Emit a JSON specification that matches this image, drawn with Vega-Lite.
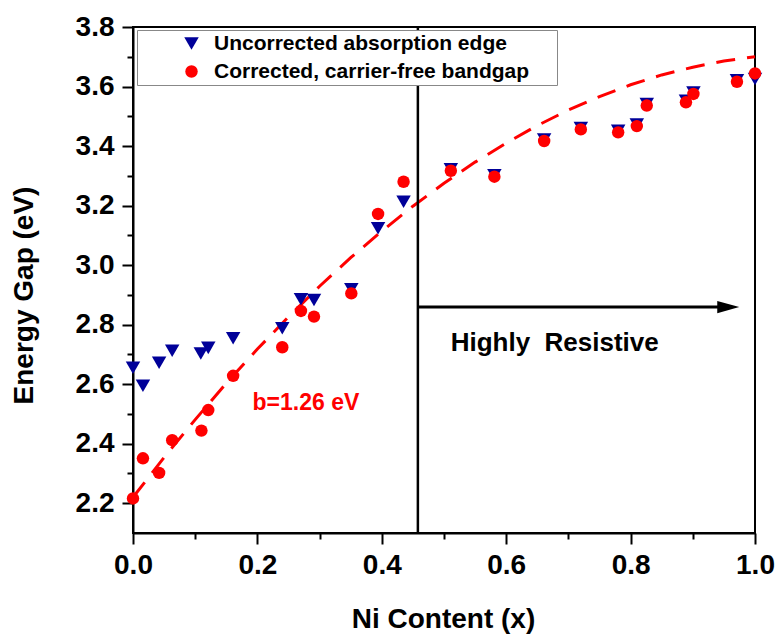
{
  "$schema": "https://vega.github.io/schema/vega-lite/v6.json",
  "width": 622,
  "height": 506,
  "autosize": {"type": "none"},
  "padding": {"left": 133, "top": 27, "right": 23, "bottom": 106},
  "background": "white",
  "config": {
    "font": "Liberation Sans",
    "view": {"stroke": "black", "strokeWidth": 2},
    "axis": {"grid": false, "domainColor": "black", "domainWidth": 2, "tickColor": "black", "tickWidth": 2, "labelColor": "black", "titleColor": "black", "labelFlush": false},
    "legend": {"orient": "none", "legendX": 4, "legendY": 3, "direction": "vertical",
               "fillColor": "white", "strokeColor": "#888888", "padding": 3,
               "symbolSize": 200, "symbolOffset": 41, "labelOffset": 12, "rowPadding": 6,
               "labelFontSize": 21, "labelFontWeight": "bold", "labelColor": "black", "labelLimit": 500,
               "titleOrient": "right", "titlePadding": 25, "titleFontSize": 10}
  },
  "datasets": {
    "points": [
      {"series": "Uncorrected absorption edge", "x": 0.0, "y": 2.655},
      {"series": "Uncorrected absorption edge", "x": 0.016, "y": 2.595},
      {"series": "Uncorrected absorption edge", "x": 0.042, "y": 2.672},
      {"series": "Uncorrected absorption edge", "x": 0.063, "y": 2.712},
      {"series": "Uncorrected absorption edge", "x": 0.109, "y": 2.703},
      {"series": "Uncorrected absorption edge", "x": 0.121, "y": 2.722},
      {"series": "Uncorrected absorption edge", "x": 0.161, "y": 2.754},
      {"series": "Uncorrected absorption edge", "x": 0.240, "y": 2.788},
      {"series": "Uncorrected absorption edge", "x": 0.270, "y": 2.885},
      {"series": "Uncorrected absorption edge", "x": 0.291, "y": 2.883},
      {"series": "Uncorrected absorption edge", "x": 0.351, "y": 2.919},
      {"series": "Uncorrected absorption edge", "x": 0.394, "y": 3.124},
      {"series": "Uncorrected absorption edge", "x": 0.435, "y": 3.213},
      {"series": "Uncorrected absorption edge", "x": 0.511, "y": 3.322},
      {"series": "Uncorrected absorption edge", "x": 0.581, "y": 3.302},
      {"series": "Uncorrected absorption edge", "x": 0.661, "y": 3.422},
      {"series": "Uncorrected absorption edge", "x": 0.720, "y": 3.461},
      {"series": "Uncorrected absorption edge", "x": 0.780, "y": 3.451},
      {"series": "Uncorrected absorption edge", "x": 0.810, "y": 3.472},
      {"series": "Uncorrected absorption edge", "x": 0.826, "y": 3.541},
      {"series": "Uncorrected absorption edge", "x": 0.889, "y": 3.552},
      {"series": "Uncorrected absorption edge", "x": 0.901, "y": 3.580},
      {"series": "Uncorrected absorption edge", "x": 0.971, "y": 3.621},
      {"series": "Uncorrected absorption edge", "x": 1.0, "y": 3.625},
      {"series": "Corrected, carrier-free bandgap", "x": 0.0, "y": 2.216},
      {"series": "Corrected, carrier-free bandgap", "x": 0.016, "y": 2.351},
      {"series": "Corrected, carrier-free bandgap", "x": 0.042, "y": 2.302},
      {"series": "Corrected, carrier-free bandgap", "x": 0.063, "y": 2.412},
      {"series": "Corrected, carrier-free bandgap", "x": 0.110, "y": 2.444},
      {"series": "Corrected, carrier-free bandgap", "x": 0.121, "y": 2.513},
      {"series": "Corrected, carrier-free bandgap", "x": 0.161, "y": 2.628},
      {"series": "Corrected, carrier-free bandgap", "x": 0.240, "y": 2.724},
      {"series": "Corrected, carrier-free bandgap", "x": 0.270, "y": 2.846},
      {"series": "Corrected, carrier-free bandgap", "x": 0.291, "y": 2.827},
      {"series": "Corrected, carrier-free bandgap", "x": 0.351, "y": 2.905},
      {"series": "Corrected, carrier-free bandgap", "x": 0.394, "y": 3.172},
      {"series": "Corrected, carrier-free bandgap", "x": 0.435, "y": 3.280},
      {"series": "Corrected, carrier-free bandgap", "x": 0.511, "y": 3.317},
      {"series": "Corrected, carrier-free bandgap", "x": 0.581, "y": 3.297},
      {"series": "Corrected, carrier-free bandgap", "x": 0.661, "y": 3.417},
      {"series": "Corrected, carrier-free bandgap", "x": 0.720, "y": 3.456},
      {"series": "Corrected, carrier-free bandgap", "x": 0.780, "y": 3.446},
      {"series": "Corrected, carrier-free bandgap", "x": 0.810, "y": 3.467},
      {"series": "Corrected, carrier-free bandgap", "x": 0.826, "y": 3.536},
      {"series": "Corrected, carrier-free bandgap", "x": 0.889, "y": 3.547},
      {"series": "Corrected, carrier-free bandgap", "x": 0.901, "y": 3.575},
      {"series": "Corrected, carrier-free bandgap", "x": 0.971, "y": 3.616},
      {"series": "Corrected, carrier-free bandgap", "x": 1.0, "y": 3.644}
    ],
    "fit": [
      {"x": 0.0, "y": 2.22}, {"x": 0.05, "y": 2.354}, {"x": 0.1, "y": 2.481}, {"x": 0.15, "y": 2.603},
      {"x": 0.2, "y": 2.718}, {"x": 0.25, "y": 2.826}, {"x": 0.3, "y": 2.929}, {"x": 0.35, "y": 3.025},
      {"x": 0.4, "y": 3.114}, {"x": 0.45, "y": 3.198}, {"x": 0.5, "y": 3.275}, {"x": 0.55, "y": 3.346},
      {"x": 0.6, "y": 3.41}, {"x": 0.65, "y": 3.469}, {"x": 0.7, "y": 3.521}, {"x": 0.75, "y": 3.566},
      {"x": 0.8, "y": 3.606}, {"x": 0.85, "y": 3.639}, {"x": 0.9, "y": 3.665}, {"x": 0.95, "y": 3.686},
      {"x": 1.0, "y": 3.70}
    ],
    "boundary": [{"x": 0.458}],
    "arrow": [{"x": 0.458, "x2": 0.945, "y": 2.859, "head": 0.957}],
    "region": [{"x": 0.678, "y": 2.712, "text": "Highly\u00a0 Resistive"}],
    "bowing": [{"x": 0.278, "y": 2.513, "text": "b=1.26 eV"}]
  },
  "resolve": {"axis": {"x": "independent", "y": "independent"}},
  "layer": [
    {
      "data": {"name": "fit"},
      "mark": {"type": "line", "color": "#ff0000", "strokeWidth": 3, "strokeDash": [19, 12]},
      "encoding": {
        "x": {"field": "x", "type": "quantitative", "scale": {"domain": [0, 1], "nice": false, "zero": false},
              "axis": {"orient": "bottom", "values": [0.1, 0.3, 0.5, 0.7, 0.9], "labels": false, "domain": false, "tickSize": 6, "title": null}},
        "y": {"field": "y", "type": "quantitative", "scale": {"domain": [2.1, 3.8], "nice": false, "zero": false},
              "axis": {"orient": "left", "values": [2.3, 2.5, 2.7, 2.9, 3.1, 3.3, 3.5, 3.7], "labels": false, "domain": false, "tickSize": 6, "title": null}}
      }
    },
    {
      "data": {"name": "boundary"},
      "mark": {"type": "rule", "color": "black", "strokeWidth": 2.5},
      "encoding": {
        "x": {"field": "x", "type": "quantitative", "axis": null}
      }
    },
    {
      "data": {"name": "arrow"},
      "mark": {"type": "rule", "color": "black", "strokeWidth": 3},
      "encoding": {
        "x": {"field": "x", "type": "quantitative", "axis": null},
        "x2": {"field": "x2"},
        "y": {"field": "y", "type": "quantitative", "axis": null}
      }
    },
    {
      "data": {"name": "arrow"},
      "mark": {"type": "point", "filled": true, "color": "black", "opacity": 1, "shape": "M-1,-0.55L1,0L-1,0.55Z", "size": 484},
      "encoding": {
        "x": {"field": "head", "type": "quantitative", "axis": null},
        "y": {"field": "y", "type": "quantitative", "axis": null}
      }
    },
    {
      "data": {"name": "region"},
      "mark": {"type": "text", "fontWeight": "bold", "align": "center", "baseline": "alphabetic", "fontSize": 26, "color": "black"},
      "encoding": {
        "x": {"field": "x", "type": "quantitative", "axis": null},
        "y": {"field": "y", "type": "quantitative", "axis": null},
        "text": {"field": "text"}
      }
    },
    {
      "data": {"name": "bowing"},
      "mark": {"type": "text", "fontWeight": "bold", "align": "center", "baseline": "alphabetic", "fontSize": 23, "color": "#ff0000"},
      "encoding": {
        "x": {"field": "x", "type": "quantitative", "axis": null},
        "y": {"field": "y", "type": "quantitative", "axis": null},
        "text": {"field": "text"}
      }
    },
    {
      "data": {"name": "points"},
      "mark": {"type": "point", "filled": true, "opacity": 1},
      "encoding": {
        "x": {"field": "x", "type": "quantitative",
              "axis": {"orient": "bottom", "values": [0, 0.2, 0.4, 0.6, 0.8, 1.0], "format": ".1f", "labelFontSize": 28, "labelFontWeight": "bold", "labelPadding": 7, "tickSize": 11,
                       "title": "Ni Content (x)", "titleFontSize": 28, "titleFontWeight": "bold", "titleX": 310, "titleY": 94, "titleBaseline": "alphabetic", "titleAlign": "center"}},
        "y": {"field": "y", "type": "quantitative",
              "axis": {"orient": "left", "values": [2.2, 2.4, 2.6, 2.8, 3.0, 3.2, 3.4, 3.6, 3.8], "format": ".1f", "labelFontSize": 28, "labelFontWeight": "bold", "labelPadding": 8, "tickSize": 11,
                       "title": "Energy Gap (eV)", "titleFontSize": 28, "titleFontWeight": "bold", "titleAngle": -90, "titleX": -101, "titleY": 268, "titleBaseline": "alphabetic", "titleAlign": "center"}},
        "size": {"field": "series", "type": "nominal",
                 "scale": {"domain": ["Uncorrected absorption edge", "Corrected, carrier-free bandgap"], "range": [210, 155]},
                 "legend": null},
        "color": {"field": "series", "type": "nominal",
                  "scale": {"domain": ["Uncorrected absorption edge", "Corrected, carrier-free bandgap"], "range": ["#000099", "#ff0000"]},
                  "legend": {"title": "\u00a0"}},
        "shape": {"field": "series", "type": "nominal",
                  "scale": {"domain": ["Uncorrected absorption edge", "Corrected, carrier-free bandgap"], "range": ["triangle-down", "circle"]},
                  "legend": {"title": "\u00a0"}}
      }
    }
  ]
}
